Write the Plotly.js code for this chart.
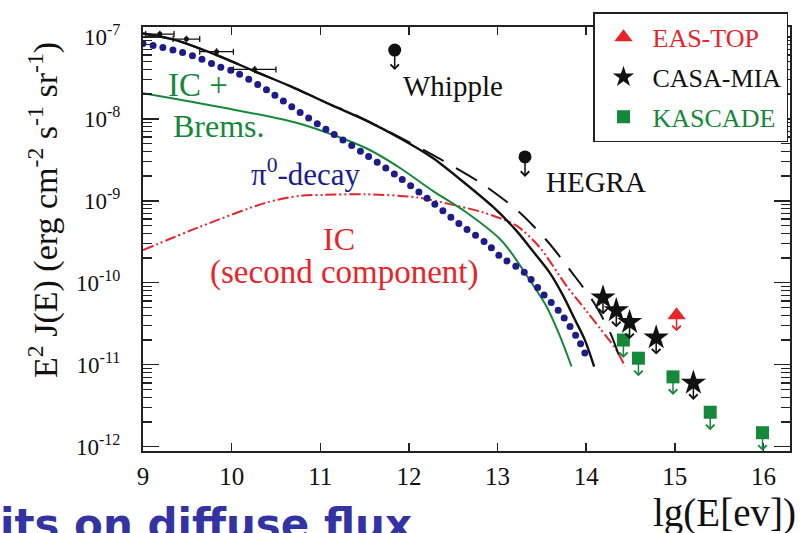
<!DOCTYPE html>
<html>
<head>
<meta charset="utf-8">
<script src="https://cdn.plot.ly/plotly-3.0.1.min.js"></script>
<style>html,body{margin:0;padding:0;background:#fff;}#chart{width:806px;height:533px;}</style>
</head>
<body>
<div id="chart"></div>
<script>
// ---- data (x = lg(E[eV]), y = E^2 J(E) in erg cm^-2 s^-1 sr^-1) ----
const egretX = [9.19, 9.49, 9.83, 10.26];
const egretY = [1.08e-7, 9.4e-8, 6.6e-8, 4.0e-8];
const egretXerr = [0.16, 0.15, 0.19, 0.24];

const totalX = [9.0, 9.34, 9.83, 10.26, 10.66, 11.14, 11.52, 11.90, 12.27, 12.65, 12.95, 13.21, 13.40, 13.59, 13.74, 13.87, 13.985, 14.09];
const totalY = [1.1e-7, 9.3e-8, 6.0e-8, 3.8e-8, 2.5e-8, 1.45e-8, 9.5e-9, 5.8e-9, 3.33e-9, 1.58e-9, 8.4e-10, 4.35e-10, 2.42e-10, 1.32e-10, 6.97e-11, 3.61e-11, 2.01e-11, 9.5e-12];

const total2X = [9.0, 9.34, 9.83, 10.26, 10.66, 11.14, 11.32, 11.85, 12.35, 12.83, 13.25, 13.57, 13.84, 14.09, 14.28, 14.38, 14.43];
const total2Y = [1.1e-7, 9.3e-8, 6.0e-8, 3.8e-8, 2.5e-8, 1.45e-8, 1.22e-8, 6.3e-9, 3.24e-9, 1.6e-9, 7.2e-10, 3.14e-10, 1.33e-10, 5.66e-11, 2.34e-11, 1.22e-11, 9.5e-12];

const pionX = [9.0, 9.21, 9.43, 9.66, 9.83, 10.04, 10.4, 10.77, 11.14, 11.52, 11.90, 12.27, 12.57, 12.88, 13.03, 13.31, 13.50, 13.72, 13.93, 14.01];
const pionY = [8.3e-8, 7.45e-8, 6.5e-8, 5.35e-8, 4.45e-8, 3.72e-8, 2.24e-8, 1.2e-8, 6.6e-9, 3.62e-9, 1.9e-9, 9.5e-10, 5.2e-10, 3.0e-10, 2.1e-10, 1.32e-10, 7.6e-11, 4.15e-11, 1.86e-11, 1.2e-11];

const icbX = [9.0, 9.885, 10.77, 11.52, 11.90, 12.27, 12.65, 13.03, 13.14, 13.36, 13.55, 13.70, 13.835];
const icbY = [2.05e-8, 1.38e-8, 8.7e-9, 4.37e-9, 2.51e-9, 1.32e-9, 7.2e-10, 3.4e-10, 2.45e-10, 1.09e-10, 5.2e-11, 2.29e-11, 9.5e-12];

const ic2X = [9.0, 9.64, 10.39, 10.77, 11.05, 11.52, 12.09, 12.46, 12.84, 13.21, 13.47, 13.78, 14.00, 14.16, 14.33, 14.44];
const ic2Y = [2.5e-10, 4.8e-10, 9.5e-10, 1.15e-9, 1.18e-9, 1.2e-9, 1.1e-9, 9.1e-10, 7.2e-10, 5.0e-10, 2.75e-10, 9.1e-11, 4.56e-11, 2.74e-11, 1.58e-11, 9.5e-12];

const iactNames = ['Whipple', 'HEGRA'];
const iactX = [11.84, 13.31];
const iactY = [6.9e-8, 3.43e-9];

const easX = [15.02];
const easY = [4.0e-11];
const casaX = [14.19, 14.34, 14.49, 14.79, 15.21];
const casaY = [6.6e-11, 4.6e-11, 3.3e-11, 2.14e-11, 6.0e-12];
const kascX = [14.42, 14.59, 14.98, 15.40, 15.99];
const kascY = [2.0e-11, 1.2e-11, 7.1e-12, 2.63e-12, 1.48e-12];

const yTickVals = [1e-12, 1e-11, 1e-10, 1e-9, 1e-8, 1e-7];
const yTickText = ['10<sup>-12</sup>', '10<sup>-11</sup>', '10<sup>-10</sup>', '10<sup>-9</sup>', '10<sup>-8</sup>', '10<sup>-7</sup>'];
const xTickVals = [9, 10, 11, 12, 13, 14, 15, 16];
const xTickText = ['9', '10', '11', '12', '13', '14', '15', '16'];

// ---- styles ----
const RED = '#e8242a', GREEN = '#16883a', NAVY = '#1c1c8a', BLACK = '#111111';
const SERIF = '"Liberation Serif", "Times New Roman", serif';

const traces = [
  {x: ic2X, y: ic2Y, mode: 'lines', showlegend: false, hoverinfo: 'skip',
   line: {color: RED, width: 2, dash: '11px,3px,2px,3px,2px,3px', shape: 'spline', smoothing: 0.8}},
  {x: icbX, y: icbY, mode: 'lines', showlegend: false, hoverinfo: 'skip',
   line: {color: GREEN, width: 2, shape: 'spline', smoothing: 0.8}},
  {x: pionX, y: pionY, mode: 'lines', showlegend: false, hoverinfo: 'skip',
   line: {color: NAVY, width: 7, dash: '0px,10.2px', shape: 'spline', smoothing: 0.8}},
  {x: total2X, y: total2Y, mode: 'lines', showlegend: false, hoverinfo: 'skip',
   line: {color: BLACK, width: 2, dash: '24px,14px', shape: 'spline', smoothing: 0.8}},
  {x: totalX, y: totalY, mode: 'lines', showlegend: false, hoverinfo: 'skip',
   line: {color: BLACK, width: 2.4, shape: 'spline', smoothing: 0.8}},
  {x: egretX, y: egretY, mode: 'markers', showlegend: false, hoverinfo: 'skip',
   marker: {color: BLACK, size: 5},
   error_x: {type: 'data', array: egretXerr, color: BLACK, thickness: 1.3, width: 3},
   error_y: {type: 'percent', value: 10, color: BLACK, thickness: 1.3, width: 0}},
  {x: iactX, y: iactY, mode: 'markers', showlegend: false, hoverinfo: 'skip',
   marker: {color: BLACK, size: 13, symbol: 'circle'}},
  {x: easX, y: easY, mode: 'markers', name: '<span style="color:' + RED + '">EAS-TOP</span>',
   legendgroup: 'a', marker: {color: RED, size: 16, symbol: 'triangle-up'}},
  {x: casaX, y: casaY, mode: 'markers', name: '<span style="color:' + BLACK + '">CASA-MIA</span>',
   legendgroup: 'b', marker: {color: BLACK, size: 19, symbol: 'star'}},
  {x: kascX, y: kascY, mode: 'markers', name: '<span style="color:' + GREEN + '">KASCADE</span>',
   legendgroup: 'c', marker: {color: GREEN, size: 13, symbol: 'square'}}
];

// upper-limit arrows built from the point arrays
function limitArrows(xs, ys, color, len) {
  return xs.map((xv, i) => ({
    x: xv, y: Math.log10(ys[i]), xref: 'x', yref: 'y', text: '',
    showarrow: true, arrowhead: 4, arrowsize: 1.1, arrowwidth: 1.5, arrowcolor: color,
    ax: 0, ay: -len, yshift: -len, standoff: 0
  }));
}

// px -> paper helpers for text placement
const L = 143, R = 16, T = 20, B = 82, W = 806, H = 533;
const pw = W - L - R, ph = H - T - B;
const px = v => (v - L) / pw;
const py = v => (H - B - v) / ph;

function label(text, x, y, color, size, anchor, extra) {
  return Object.assign({text: text, x: px(x), y: py(y), xref: 'paper', yref: 'paper',
    showarrow: false, xanchor: anchor || 'left', yanchor: 'middle',
    font: {family: SERIF, size: size, color: color}}, extra || {});
}

const annotations = []
  .concat(limitArrows(iactX, iactY, BLACK, 20))
  .concat(limitArrows(easX, easY, RED, 16))
  .concat(limitArrows(casaX, casaY, BLACK, 17))
  .concat(limitArrows(kascX, kascY, GREEN, 18))
  .concat([
    label('IC +', 166, 79, GREEN, 33),
    label('Brems.', 171, 121, GREEN, 32),
    label('\u03c0<sup>0</sup>-decay', 249, 168, NAVY, 31),
    label('IC', 339, 235, RED, 32, 'center'),
    label('(second component)', 344, 270, RED, 33, 'center'),
    label(iactNames[0], 401, 80, BLACK, 29),
    label(iactNames[1], 544, 178, BLACK, 29),
    label('E<sup>2</sup> J(E) (erg cm<sup>-2</sup> s<sup>-1</sup> sr<sup>-1</sup>)', 44, 206, BLACK, 34, 'center', {textangle: -90}),
    label('lg(E[ev])', 724, 514, BLACK, 39, 'center'),
    {text: '<b>its on diffuse flux</b>', x: px(-2), y: py(526), xref: 'paper', yref: 'paper',
     showarrow: false, xanchor: 'left', yanchor: 'middle',
     font: {family: '"DejaVu Sans", Verdana, sans-serif', size: 42, color: '#3333a3'}}
  ]);

const axisCommon = {
  showline: true, linecolor: '#222', linewidth: 2, mirror: 'ticks',
  ticks: 'inside', tickcolor: '#222', tickwidth: 1.5,
  showgrid: false, zeroline: false,
  tickfont: {family: SERIF, color: '#111'}
};

const layout = {
  width: W, height: H,
  margin: {l: L, r: R, t: T, b: B},
  paper_bgcolor: '#fff', plot_bgcolor: '#fff',
  showlegend: true,
  legend: {x: px(593), y: py(5), xanchor: 'left', yanchor: 'top',
    bgcolor: '#fff', bordercolor: '#222', borderwidth: 1.5,
    font: {family: SERIF, size: 26, color: BLACK},
    traceorder: 'grouped', tracegroupgap: 3, itemwidth: 48},
  xaxis: Object.assign({}, axisCommon, {
    range: [9, 16.3], tickvals: xTickVals, ticktext: xTickText, ticklen: 8,
    tickfont: {family: SERIF, size: 25, color: '#111'}, ticklabelstandoff: 2}),
  yaxis: Object.assign({}, axisCommon, {
    type: 'log', range: [-12.053, -6.88], tickvals: yTickVals, ticktext: yTickText, ticklen: 16,
    tickfont: {family: SERIF, size: 23, color: '#111'}, ticklabelstandoff: 16,
    minor: {ticks: 'inside', ticklen: 9, tickwidth: 1.3, tickcolor: '#222', dtick: 'D1', showgrid: false}}),
  annotations: annotations
};

Plotly.newPlot('chart', traces, layout, {staticPlot: true, displayModeBar: false}).then(function (gd) {
  // round caps turn the zero-length dashes of the pi0 curve into round dots
  gd.querySelectorAll('.scatterlayer path.js-line').forEach(function (p) {
    const d = p.style.strokeDasharray || '';
    if (d.indexOf('0px') === 0 || d.indexOf('0,') === 0 || d.indexOf('0 ') === 0) {
      p.style.strokeLinecap = 'round';
    }
  });
});
</script>
</body>
</html>
